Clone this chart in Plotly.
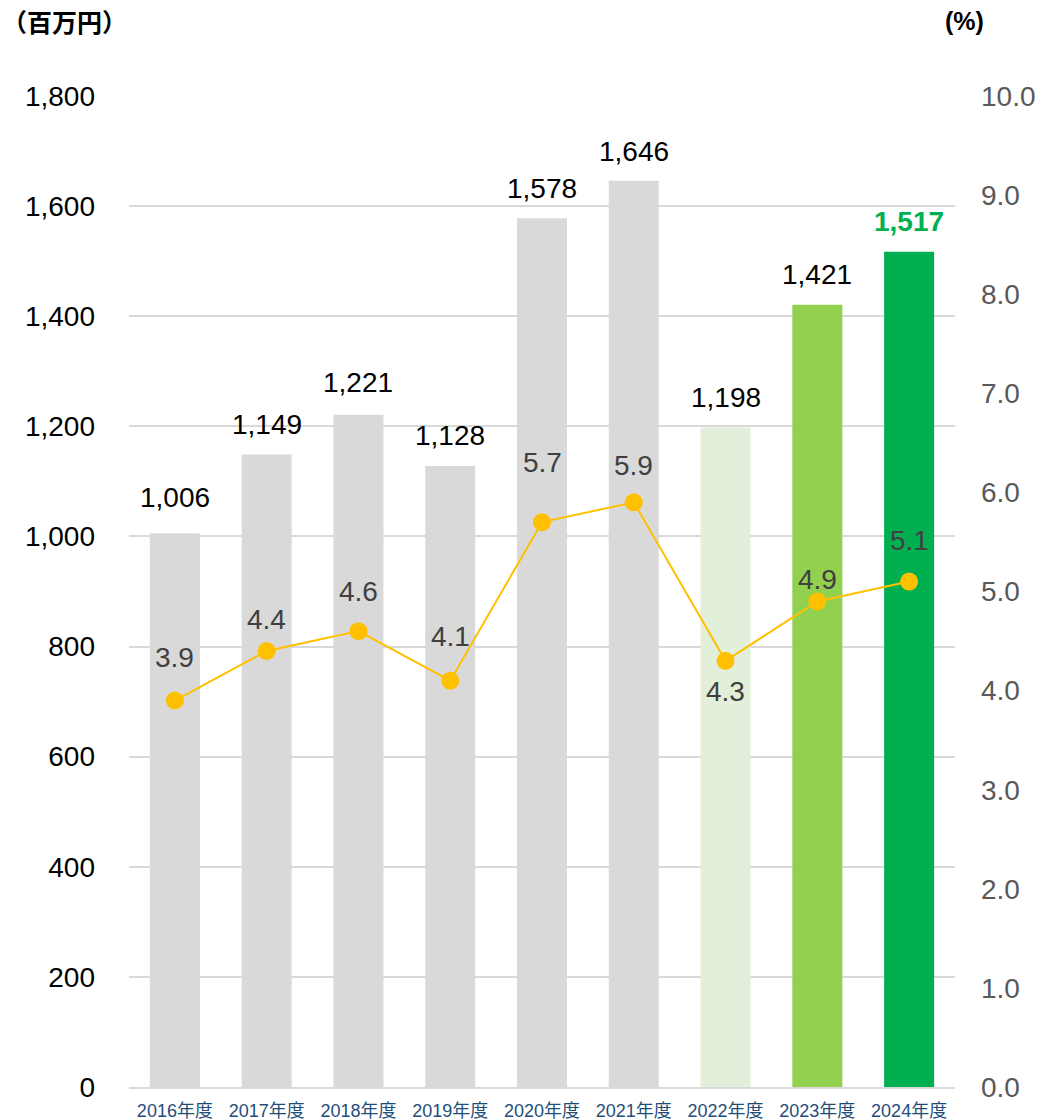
import plotly.graph_objects as go

categories = ["2016年度", "2017年度", "2018年度", "2019年度", "2020年度", "2021年度", "2022年度", "2023年度", "2024年度"]
amounts = [1006, 1149, 1221, 1128, 1578, 1646, 1198, 1421, 1517]
ratios = [3.9, 4.4, 4.6, 4.1, 5.7, 5.9, 4.3, 4.9, 5.1]
bar_colors = ["#D9D9D9"] * 6 + ["#E2EFDA", "#92D050", "#00B050"]
amount_label_shift = [36, 30, 32, 30, 30, 29, 30, 30, 30]
ratio_label_shift = [43, 31, 40, 44, 60, 37, -31, 22, 41]

FONT = "Liberation Sans, Arial, Noto Sans CJK JP, sans-serif"

fig = go.Figure()
fig.add_trace(go.Bar(x=categories, y=amounts, marker=dict(color=bar_colors, line=dict(width=0)),
                     width=0.545, yaxis="y", hoverinfo="x+y"))
fig.add_trace(go.Scatter(x=categories, y=ratios, yaxis="y2", mode="lines+markers",
                         line=dict(color="#FFC000", width=2),
                         marker=dict(color="#FFC000", size=18)))

annotations = []
for i, (c, v, s) in enumerate(zip(categories, amounts, amount_label_shift)):
    last = i == len(categories) - 1
    annotations.append(dict(x=c, y=v, xref="x", yref="y", text=f"{v:,}", showarrow=False,
                            yshift=s, yanchor="middle",
                            font=dict(size=28, color="#00B050" if last else "#000000",
                                      family=FONT, weight="bold" if last else "normal")))
for c, r, s in zip(categories, ratios, ratio_label_shift):
    annotations.append(dict(x=c, y=r, xref="x", yref="y2", text=f"{r:.1f}", showarrow=False,
                            yshift=s, yanchor="middle", font=dict(size=28, color="#404040", family=FONT)))
annotations.append(dict(x=0, y=21, xref="paper", yref="paper", text="（百万円）", showarrow=False,
                        xanchor="left", yanchor="middle", font=dict(size=25, color="#000000", family="Noto Sans CJK JP", weight="bold")))
annotations.append(dict(x=965, y=21, xref="paper", yref="paper", text="(%)", showarrow=False,
                        xanchor="center", yanchor="middle", font=dict(size=25, color="#000000", family=FONT, weight="bold")))

W, H = 1060, 1120
ml, mr, mt, mb = 129, 105, 96, 33
pw, ph = W - ml - mr, H - mt - mb
for a in annotations[-2:]:
    a["x"] = (a["x"] - ml) / pw
    a["y"] = (H - mb - a["y"]) / ph

fig.update_layout(
    width=W, height=H,
    margin=dict(l=ml, r=mr, t=mt, b=mb),
    paper_bgcolor="white", plot_bgcolor="white",
    showlegend=False,
    separators=".,",
    font=dict(family=FONT),
    xaxis=dict(range=[-0.5, 8.5], tickfont=dict(size=18, color="#1F4E79"), showgrid=False, showline=True,
               linecolor="#D9D9D9", linewidth=2, ticks="", ticklabelstandoff=6, automargin=False),
    yaxis=dict(range=[0, 1800], dtick=200, tickformat=",d", showgrid=True, gridcolor="#D9D9D9",
               gridwidth=1.5, zeroline=False, tickfont=dict(size=28, color="#000000"),
               ticklabelstandoff=33, showline=False, automargin=False),
    yaxis2=dict(range=[0, 10], dtick=1, tickformat=".1f", overlaying="y", side="right",
                showgrid=False, zeroline=False, tickfont=dict(size=28, color="#595959"),
                ticklabelstandoff=25, automargin=False),
    annotations=annotations,
)

fig.write_html("out.html")
